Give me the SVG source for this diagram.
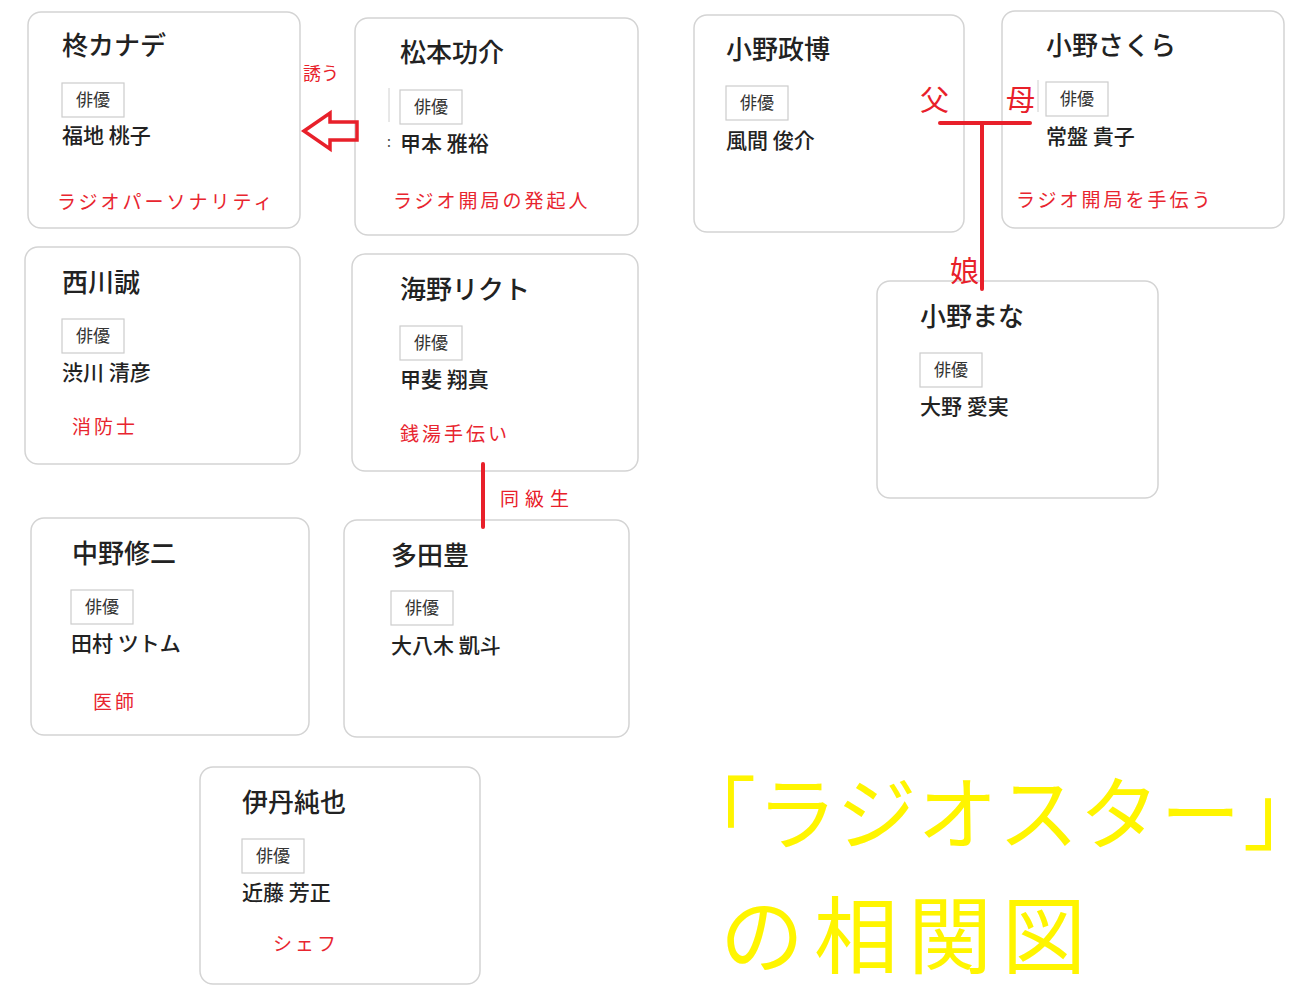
<svg xmlns="http://www.w3.org/2000/svg" width="1300" height="1005" viewBox="0 0 1300 1005">
<style>
.card{fill:#fff;stroke:#d4d4d4;stroke-width:1.5}
.name{font-family:"Noto Sans CJK JP","Noto Sans",sans-serif;font-size:26px;fill:#222;font-weight:500}
.badge{fill:#fff;stroke:#cccccc;stroke-width:1.2}
.btxt{font-family:"Noto Sans CJK JP","Noto Sans",sans-serif;font-size:17px;fill:#333;text-anchor:middle}
.actor{font-family:"Noto Sans CJK JP","Noto Sans",sans-serif;font-size:21px;fill:#222;font-weight:500}
.role{font-family:"Noto Sans CJK JP","Noto Sans",sans-serif;font-size:19px;fill:#e8252f;letter-spacing:3px;font-weight:400}
.rel{font-family:"Noto Sans CJK JP","Noto Sans",sans-serif;fill:#e8202a}
.line{stroke:#e8202a;stroke-width:4;fill:none;stroke-linecap:round}
.title{font-family:"Noto Sans CJK JP","Noto Sans",sans-serif;fill:#fff500;font-weight:400}
.faint{stroke:#d0d0d0;stroke-width:1}
</style>
<rect width="1300" height="1005" fill="#fff"/>

<g id="kanade">
<rect class="card" x="28" y="12" width="272" height="216" rx="13"/>
<text class="name" x="62" y="55">柊カナデ</text>
<rect class="badge" x="62" y="83" width="62" height="34"/>
<text class="btxt" x="93" y="106">俳優</text>
<text class="actor" x="62" y="143">福地 桃子</text>
<text class="role" x="57" y="209" font-size="18" letter-spacing="0.8">ラジオパーソナリティ</text>
</g>

<g id="matsumoto">
<rect class="card" x="355" y="18" width="283" height="217" rx="13"/>
<text class="name" x="400" y="62">松本功介</text>
<line class="faint" x1="389" y1="88" x2="389" y2="122"/>
<text x="387" y="147" font-family="Noto Sans CJK JP,sans-serif" font-size="14" fill="#444">:</text>
<rect class="badge" x="400" y="90" width="62" height="34"/>
<text class="btxt" x="431" y="113">俳優</text>
<text class="actor" x="400" y="151">甲本 雅裕</text>
<text class="role" x="393" y="208">ラジオ開局の発起人</text>
</g>

<g id="masahiro">
<rect class="card" x="694" y="15" width="270" height="217" rx="13"/>
<text class="name" x="726" y="59">小野政博</text>
<rect class="badge" x="726" y="86" width="62" height="34"/>
<text class="btxt" x="757" y="109">俳優</text>
<text class="actor" x="726" y="148">風間 俊介</text>
</g>

<g id="sakura">
<rect class="card" x="1002" y="11" width="282" height="217" rx="13"/>
<text class="name" x="1046" y="55">小野さくら</text>
<line class="faint" x1="1038" y1="80" x2="1038" y2="112"/>
<rect class="badge" x="1046" y="82" width="62" height="34"/>
<text class="btxt" x="1077" y="105">俳優</text>
<text class="actor" x="1046" y="144">常盤 貴子</text>
<text class="role" x="1016" y="207" letter-spacing="1">ラジオ開局を手伝う</text>
</g>

<g id="nishikawa">
<rect class="card" x="25" y="247" width="275" height="217" rx="13"/>
<text class="name" x="62" y="292">西川誠</text>
<rect class="badge" x="62" y="319" width="62" height="34"/>
<text class="btxt" x="93" y="342">俳優</text>
<text class="actor" x="62" y="380">渋川 清彦</text>
<text class="role" x="72" y="434" letter-spacing="5">消防士</text>
</g>

<g id="umino">
<rect class="card" x="352" y="254" width="286" height="217" rx="13"/>
<text class="name" x="400" y="299">海野リクト</text>
<rect class="badge" x="400" y="326" width="62" height="34"/>
<text class="btxt" x="431" y="349">俳優</text>
<text class="actor" x="400" y="387">甲斐 翔真</text>
<text class="role" x="400" y="441" letter-spacing="5">銭湯手伝い</text>
</g>

<g id="mana">
<rect class="card" x="877" y="281" width="281" height="217" rx="13"/>
<text class="name" x="920" y="326">小野まな</text>
<rect class="badge" x="920" y="353" width="62" height="34"/>
<text class="btxt" x="951" y="376">俳優</text>
<text class="actor" x="920" y="414">大野 愛実</text>
</g>

<g id="nakano">
<rect class="card" x="31" y="518" width="278" height="217" rx="13"/>
<text class="name" x="72" y="563">中野修二</text>
<rect class="badge" x="71" y="590" width="62" height="34"/>
<text class="btxt" x="102" y="613">俳優</text>
<text class="actor" x="71" y="651">田村 ツトム</text>
<text class="role" x="93" y="709" letter-spacing="9">医師</text>
</g>

<g id="tada">
<rect class="card" x="344" y="520" width="285" height="217" rx="13"/>
<text class="name" x="391" y="565">多田豊</text>
<rect class="badge" x="391" y="591" width="62" height="34"/>
<text class="btxt" x="422" y="614">俳優</text>
<text class="actor" x="391" y="653">大八木 凱斗</text>
</g>

<g id="itami">
<rect class="card" x="200" y="767" width="280" height="217" rx="13"/>
<text class="name" x="242" y="812">伊丹純也</text>
<rect class="badge" x="242" y="839" width="62" height="34"/>
<text class="btxt" x="273" y="862">俳優</text>
<text class="actor" x="242" y="900">近藤 芳正</text>
<text class="role" x="273" y="951" letter-spacing="0">シェフ</text>
</g>

<g id="connectors">
<text class="rel" x="303" y="80" font-size="18">誘う</text>
<polygon points="304,131 330,113 330,122 357,122 357,140 330,140 330,149" fill="none" stroke="#e8202a" stroke-width="3.5" stroke-linejoin="miter"/>
<text class="rel" x="920" y="111" font-size="29">父</text>
<text class="rel" x="1006" y="111" font-size="29">母</text>
<line class="line" x1="940" y1="123" x2="1030" y2="123"/>
<line class="line" x1="982" y1="123" x2="982" y2="289"/>
<text class="rel" x="950" y="282" font-size="29">娘</text>
<line class="line" x1="483" y1="464" x2="483" y2="527"/>
<text class="rel" x="500" y="506" font-size="19" letter-spacing="6">同級生</text>
</g>

<g id="title">
<text class="title" x="676" y="843" font-size="80" letter-spacing="1">「ラジオスター<tspan x="1243" style="font-feature-settings:'halt'" letter-spacing="0">」</tspan></text>
<text class="title" x="720" y="967" font-size="84" letter-spacing="10">の相関図</text>
</g>
</svg>
